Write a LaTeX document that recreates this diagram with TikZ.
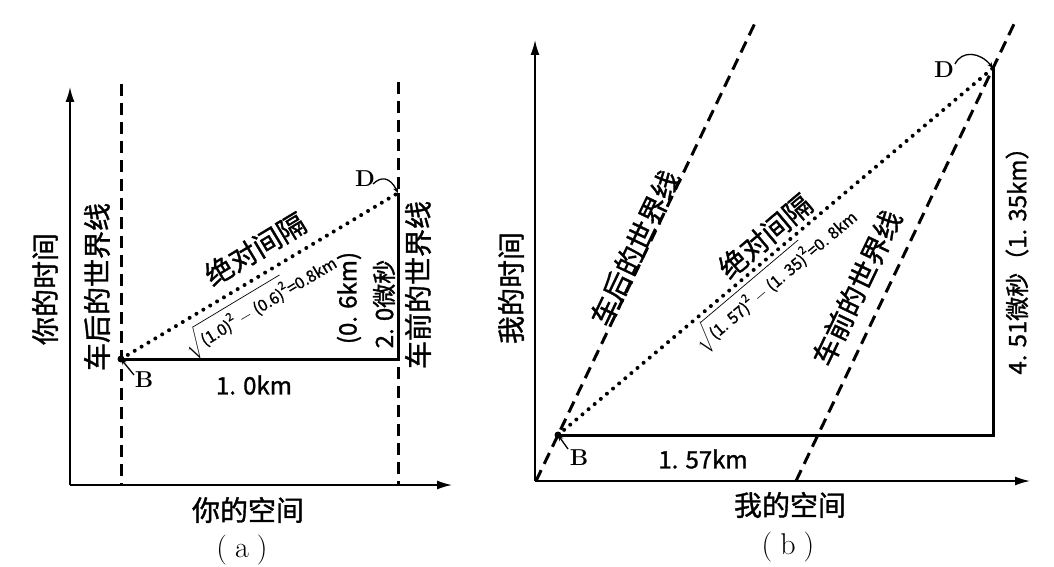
\documentclass[tikz,border=0pt]{standalone}
\usepackage{amsmath}
\usepackage{fontspec}
\newfontfamily\cjk{Noto Sans CJK SC}[FakeBold=1.2]
\usetikzlibrary{arrows.meta}
\begin{document}
\begin{tikzpicture}[x=1pt,y=-1pt,
  axis/.style={line width=1.6pt,-{Latex[length=15pt,width=9pt]}},
  wline/.style={line width=3pt,dash pattern=on 12pt off 7pt},
  leg/.style={line width=3pt},
  interval/.style={line width=4pt,dash pattern=on 0pt off 8pt,line cap=round},
  big/.style={font=\cjk\fontsize{28}{30}\selectfont,inner sep=0pt},
  mid/.style={font=\cjk\fontsize{24}{26}\selectfont,inner sep=0pt},
  ptlabel/.style={font=\fontsize{23}{25}\selectfont\bfseries,inner sep=0pt},
  formula/.style={font=\cjk\fontsize{16}{18}\selectfont,inner sep=0pt},
  caption/.style={font=\fontsize{30}{32}\selectfont,inner sep=0pt},
  pointer/.style={line width=1.3pt,-{Stealth[length=6pt,width=5pt]}}]
\useasboundingbox (0,0) rectangle (1054,567);
\fill[white] (0,0) rectangle (1054,567);

% ---------- panel (a) ----------
\coordinate (Oa) at (70,485);
\coordinate (Ya) at (70,87);
\coordinate (Xa) at (452,485);
\coordinate (La1) at (121,84);
\coordinate (La2) at (121,485);
\coordinate (Ra1) at (398,82);
\coordinate (Ra2) at (398,485);
\coordinate (Ba) at (121,359);
\coordinate (Ca) at (398,359);
\coordinate (Da) at (398,193);
\draw[axis] (Oa) -- (Ya);
\draw[axis] (Oa) -- (Xa);
\draw[wline] (La1) -- (La2);
\draw[wline] (Ra1) -- (Ra2);
\draw[leg] (Ba) -- (Ca) -- (Da);
\draw[interval] (Ba) -- (Da);
\fill (Ba) circle (3.5);

\node[big,rotate=90] (ta) at (45,289) {你的时间};
\node[big,rotate=90] (wla) at (97,287) {车后的世界线};
\node[big,rotate=90] (wra) at (418,285) {车前的世界线};
\node[mid,rotate=90] (kma) at (349,298) {(0. 6km)};
\node[mid,rotate=90] (usa) at (384,304) {2. 0微秒};
\node[big,rotate=31] (ia) at (255,249) {绝对间隔};
\node[formula,rotate=31] (fa) at (260,304) {$\sqrt{\text{(1.0)}^{\text{2}}-\text{(0.6)}^{\text{2}}}$=0.8km};
\node[mid] (xa) at (254,385) {1. 0km};
\node[big] (sa) at (248,510) {你的空间};
\node[caption] (capa) at (242,550) {(\hspace{8pt}a\hspace{8pt})};
\node[ptlabel] (bla) at (144,380) {B};
\node[ptlabel] (dla) at (365,179) {D};
\coordinate (bpa) at (134,375);
\coordinate (dpa) at (373,184);
\draw[pointer] (bpa) -- (Ba);
\draw[pointer] (dpa) .. controls (381,176) and (390,177) .. (Da);

% ---------- panel (b) ----------
\coordinate (Ob) at (535,481);
\coordinate (Yb) at (535,40);
\coordinate (Xb) at (1030,481);
\coordinate (Lb1) at (536,481);
\coordinate (Lb2) at (755,23);
\coordinate (Rb1) at (796,481);
\coordinate (Rb2) at (1014.5,23);
\coordinate (Bb) at (558,435);
\coordinate (Cb) at (993,435);
\coordinate (Db) at (993,68);
\draw[axis] (Ob) -- (Yb);
\draw[axis] (Ob) -- (Xb);
\draw[wline] (Lb1) -- (Lb2);
\draw[wline] (Rb1) -- (Rb2);
\draw[leg] (Bb) -- (Cb) -- (Db);
\draw[interval] (Bb) -- (Db);
\fill (Bb) circle (3.5);

\node[big,rotate=90] (tb) at (511,288) {我的时间};
\node[big,rotate=64.45] (wlb) at (635,248) {车后的世界线};
\node[big,rotate=64.45] (wrb) at (857,288) {车前的世界线};
\node[big,rotate=40.2] (ib) at (765,236) {绝对间隔};
\node[formula,rotate=40.2] (fb) at (775,279) {$\sqrt{\text{(1. 57)}^{\text{2}}-\text{(1. 35)}^{\text{2}}}$=0. 8km};
\node[mid,rotate=90] (vb) at (1017,255) {4. 51微秒（1. 35km）};
\node[mid] (xb) at (703,459) {1. 57km};
\node[big] (sb) at (790,505) {我的空间};
\node[caption] (capb) at (788,547) {(\hspace{8pt}b\hspace{8pt})};
\node[ptlabel] (blb) at (579,458) {B};
\node[ptlabel] (dlb) at (944,70) {D};
\coordinate (bpb) at (568,449);
\coordinate (dpb) at (955,64);
\draw[pointer] (bpb) -- (Bb);
\draw[pointer] (dpb) .. controls (962,50) and (980,52) .. (Db);
\end{tikzpicture}
\end{document}
